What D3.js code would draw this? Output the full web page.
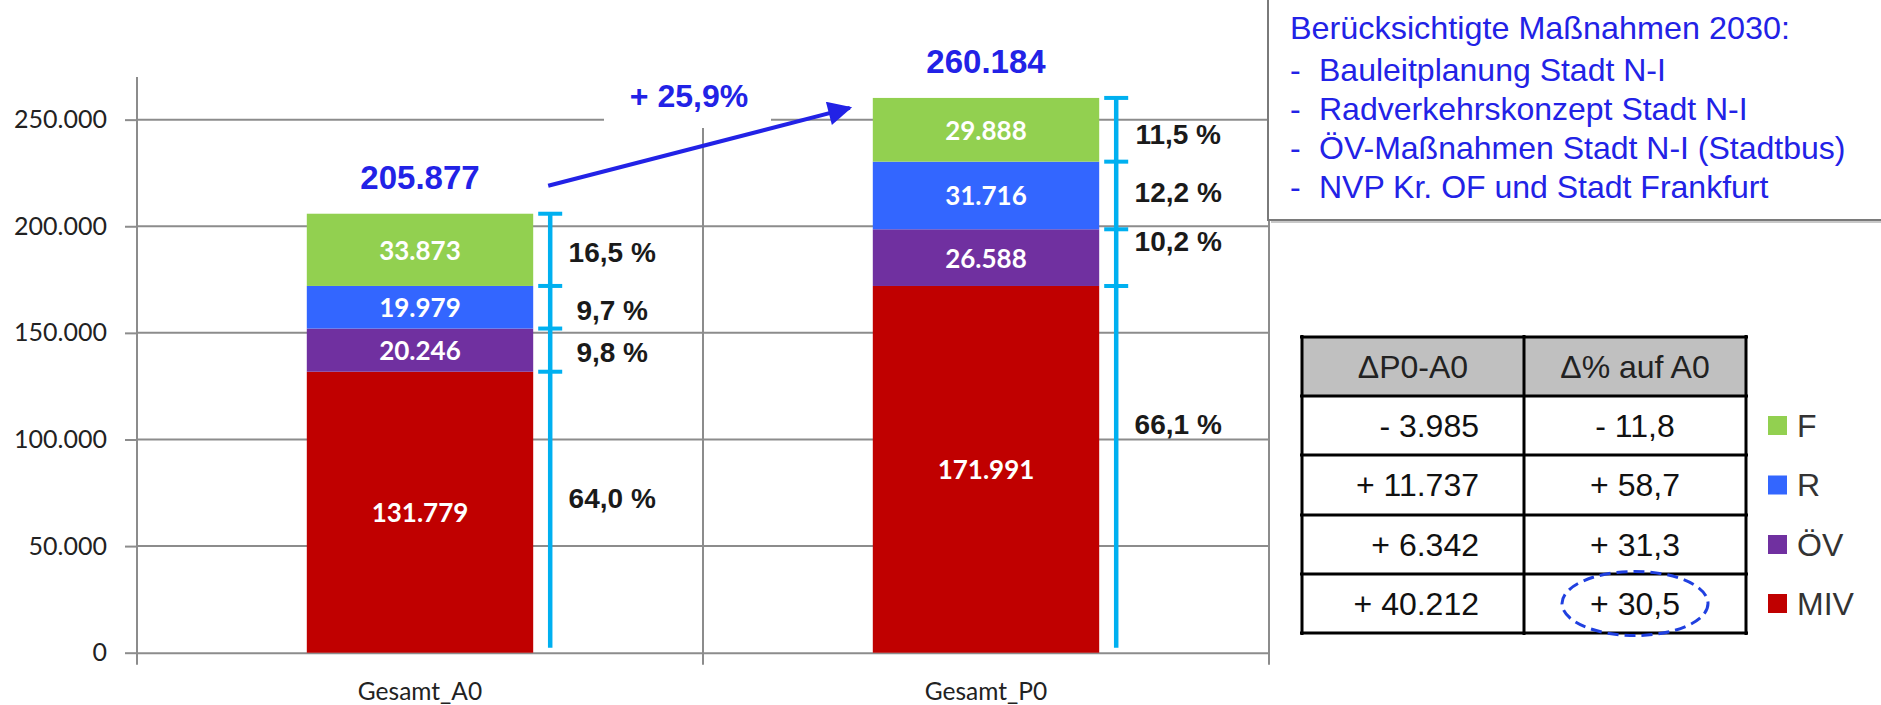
<!DOCTYPE html>
<html><head><meta charset="utf-8">
<script src="https://cdn.jsdelivr.net/npm/d3@7/dist/d3.min.js"></script>
<style>body{margin:0;background:#fff;} svg{display:block;}</style>
</head><body><svg id="c" width="1881" height="705"></svg>
<script>
// ---------- data ----------
const categories = ["Gesamt_A0", "Gesamt_P0"];
const modes = ["MIV", "ÖV", "R", "F"];           // stack order, bottom to top
const valuesMIV = [131779, 171991];
const valuesOEV = [20246, 26588];
const valuesR = [19979, 31716];
const valuesF = [33873, 29888];
const totals = [205877, 260184];
const yTickValues = [0, 50000, 100000, 150000, 200000, 250000];
const growthLabel = 25.9;
const boxTitle = "Berücksichtigte Maßnahmen 2030:";
const boxItems = ["Bauleitplanung Stadt N-I", "Radverkehrskonzept Stadt N-I", "ÖV-Maßnahmen Stadt N-I (Stadtbus)", "NVP Kr. OF und Stadt Frankfurt"];
const tableHeaders = ["ΔP0-A0", "Δ% auf A0"];
const legendOrder = ["F", "R", "ÖV", "MIV"];

// ---------- setup ----------
const colors = {"MIV": "#c00000", "ÖV": "#7030a0", "R": "#3366ff", "F": "#92d050"};
const seriesValues = {"MIV": valuesMIV, "ÖV": valuesOEV, "R": valuesR, "F": valuesF};
const rows = categories.map((c, i) => {
  const o = {cat: c};
  modes.forEach(m => o[m] = seriesValues[m][i]);
  return o;
});
const loc = d3.formatLocale({decimal: ",", thousands: ".", grouping: [3], currency: ["", "€"]});
const fInt = loc.format(",d");
const f1 = loc.format(".1f");
const signed = (v, f) => (v < 0 ? "- " : "+ ") + f(Math.abs(v));

const svg = d3.select("#c");
const AR = "'Liberation Sans', Arial, sans-serif";
const CAL = "Lato, 'Liberation Sans', sans-serif";
const BLUE = "#2222e6";

const x = d3.scaleBand().domain(categories).range([137, 1269]).paddingInner(0).paddingOuter(0);
const y = d3.scaleLinear().domain([0, 270000]).range([652.7, 77]);
const barW = x.bandwidth() * 0.4;
const barX = c => x(c) + (x.bandwidth() - barW) / 2;

// gridlines
const grid = svg.append("g");
grid.selectAll("line.h").data(yTickValues.filter(v => v > 0)).join("line")
  .attr("x1", x.range()[0]).attr("x2", x.range()[1])
  .attr("y1", d => y(d)).attr("y2", d => y(d))
  .attr("stroke", "#8c8c8c").attr("stroke-width", 2);
grid.selectAll("line.v").data(categories.map(c => x(c) + x.bandwidth())).join("line")
  .attr("x1", d => d).attr("x2", d => d)
  .attr("y1", y.range()[1]).attr("y2", y(0) + 12)
  .attr("stroke", "#8c8c8c").attr("stroke-width", 2);

// y axis
const yAxis = svg.append("g").attr("transform", `translate(${x.range()[0]},0)`)
  .call(d3.axisLeft(y).tickValues(yTickValues).tickSize(12).tickPadding(18).tickFormat(fInt));
yAxis.select(".domain").attr("stroke", "#8c8c8c").attr("stroke-width", 2)
  .attr("d", `M0,${y.range()[1]}V${y(0) + 12}`);
yAxis.selectAll(".tick line").attr("stroke", "#8c8c8c").attr("stroke-width", 2);
yAxis.selectAll(".tick text").attr("font-family", CAL).attr("font-size", 25).attr("fill", "#222");

// x axis
const xAxis = svg.append("g").attr("transform", `translate(0,${y(0)})`)
  .call(d3.axisBottom(x).tickSize(0).tickPadding(30));
xAxis.select(".domain").attr("stroke", "#8c8c8c").attr("stroke-width", 2);
xAxis.selectAll(".tick text").attr("font-family", CAL).attr("font-size", 24.5).attr("fill", "#222");

// stacked bars
const stack = d3.stack().keys(modes)(rows);
const layers = svg.append("g").selectAll("g").data(stack).join("g").attr("fill", d => colors[d.key]);
layers.selectAll("rect").data(d => d.map(p => ({key: d.key, p}))).join("rect")
  .attr("x", d => barX(d.p.data.cat)).attr("width", barW)
  .attr("y", d => y(d.p[1])).attr("height", d => y(d.p[0]) - y(d.p[1]));
layers.selectAll("text").data(d => d.map(p => ({key: d.key, p}))).join("text")
  .attr("x", d => barX(d.p.data.cat) + barW / 2)
  .attr("y", d => (y(d.p[0]) + y(d.p[1])) / 2)
  .attr("text-anchor", "middle").attr("dominant-baseline", "central")
  .attr("font-family", CAL).attr("font-weight", "bold").attr("font-size", 26).attr("fill", "#fff")
  .text(d => fInt(d.p[1] - d.p[0]));

// brackets + percent shares
const nudge = {"Gesamt_A0": {"MIV": -14, "ÖV": 2, "R": 3, "F": 3}, "Gesamt_P0": {"MIV": -45, "ÖV": -16, "R": -3, "F": 5}};
categories.forEach((c, i) => {
  const bx = barX(c) + barW + 17;
  const g = svg.append("g");
  g.append("line").attr("x1", bx).attr("x2", bx).attr("y1", y(totals[i]) - 1).attr("y2", y(0) - 5)
    .attr("stroke", "#00b0f0").attr("stroke-width", 4.5);
  stack.forEach(s => {
    g.append("line").attr("x1", bx - 12).attr("x2", bx + 12)
      .attr("y1", y(s[i][1])).attr("y2", y(s[i][1]))
      .attr("stroke", "#00b0f0").attr("stroke-width", 4);
    const share = (s[i][1] - s[i][0]) / totals[i] * 100;
    g.append("text").attr("x", bx + 62).attr("y", (y(s[i][0]) + y(s[i][1])) / 2 + nudge[c][s.key])
      .attr("text-anchor", "middle").attr("dominant-baseline", "central")
      .attr("font-family", AR).attr("font-weight", "bold").attr("font-size", 28).attr("fill", "#1a1a1a")
      .text(f1(share) + " %");
  });
  // total
  svg.append("text").attr("x", barX(c) + barW / 2).attr("y", y(totals[i]) - 25)
    .attr("text-anchor", "middle").attr("font-family", AR).attr("font-weight", "bold")
    .attr("font-size", 33).attr("fill", BLUE).text(fInt(totals[i]));
});

// growth arrow + label
const mid = x(categories[0]) + x.bandwidth();
svg.append("rect").attr("x", mid - 99).attr("y", 66).attr("width", 167).attr("height", 62).attr("fill", "#fff");
svg.append("text").attr("x", mid - 14).attr("y", 107).attr("text-anchor", "middle")
  .attr("font-family", AR).attr("font-weight", "bold").attr("font-size", 32).attr("fill", BLUE)
  .text("+ " + f1(growthLabel) + "%");
svg.append("defs").append("marker").attr("id", "ah").attr("viewBox", "0 0 10 10")
  .attr("refX", 9).attr("refY", 5).attr("markerWidth", 6.5).attr("markerHeight", 6)
  .attr("orient", "auto").attr("markerUnits", "strokeWidth")
  .append("path").attr("d", "M0,0L10,5L0,10z").attr("fill", BLUE);
const ax1 = barX(categories[0]) + barW + 15, ay1 = y(totals[0]) - 28;
const ax2 = barX(categories[1]) - 23, ay2 = y(totals[1]) + 10;
svg.append("line").attr("x1", ax1).attr("y1", ay1).attr("x2", ax2).attr("y2", ay2)
  .attr("stroke", BLUE).attr("stroke-width", 4).attr("marker-end", "url(#ah)");

// text box
svg.append("rect").attr("x", 1271).attr("y", -10).attr("width", 700).attr("height", 233).attr("fill", "#c8c8c8");
svg.append("rect").attr("x", 1268).attr("y", -10).attr("width", 700).attr("height", 230)
  .attr("fill", "#fff").attr("stroke", "#7a7a7a").attr("stroke-width", 2);
const bt = svg.append("g").attr("font-family", AR).attr("font-size", 32).attr("fill", BLUE);
bt.append("text").attr("x", 1290).attr("y", 39).attr("textLength", 500).attr("lengthAdjust", "spacingAndGlyphs").text(boxTitle);
boxItems.forEach((t, i) => {
  const ty = 81 + i * 39;
  bt.append("text").attr("x", 1290).attr("y", ty).text("-");
  bt.append("text").attr("x", 1319).attr("y", ty).text(t);
});

// table
const colX = [1302, 1524, 1746];
const rowY = [337, 396, 455, 515, 574, 633];
const tbl = svg.append("g");
tbl.append("rect").attr("x", colX[0]).attr("y", rowY[0]).attr("width", colX[2] - colX[0]).attr("height", rowY[1] - rowY[0]).attr("fill", "#c0c0c0");
rowY.forEach(ry => tbl.append("line").attr("x1", colX[0] - 2).attr("x2", colX[2] + 2).attr("y1", ry).attr("y2", ry).attr("stroke", "#000").attr("stroke-width", 3));
colX.forEach(cx => tbl.append("line").attr("x1", cx).attr("x2", cx).attr("y1", rowY[0] - 2).attr("y2", rowY[5] + 2).attr("stroke", "#000").attr("stroke-width", 3));
tableHeaders.forEach((h, i) => tbl.append("text").attr("x", (colX[i] + colX[i + 1]) / 2).attr("y", (rowY[0] + rowY[1]) / 2)
  .attr("text-anchor", "middle").attr("dominant-baseline", "central")
  .attr("font-family", AR).attr("font-size", 32).attr("fill", "#222").text(h));
legendOrder.forEach((m, r) => {
  const a = seriesValues[m][0], b = seriesValues[m][1];
  const cy = (rowY[r + 1] + rowY[r + 2]) / 2;
  tbl.append("text").attr("x", colX[1] - 45).attr("y", cy).attr("text-anchor", "end").attr("dominant-baseline", "central")
    .attr("font-family", AR).attr("font-size", 32).attr("fill", "#111").text(signed(b - a, fInt));
  tbl.append("text").attr("x", (colX[1] + colX[2]) / 2).attr("y", cy).attr("text-anchor", "middle").attr("dominant-baseline", "central")
    .attr("font-family", AR).attr("font-size", 32).attr("fill", "#111").text(signed(Math.round((b - a) / a * 1000) / 10, f1));
  // legend
  tbl.append("rect").attr("x", 1768).attr("y", cy - 9.5).attr("width", 19).attr("height", 19).attr("fill", colors[m]);
  tbl.append("text").attr("x", 1797).attr("y", cy).attr("dominant-baseline", "central")
    .attr("font-family", AR).attr("font-size", 32).attr("fill", "#333").text(m);
  if (r === legendOrder.length - 1) {
    tbl.append("ellipse").attr("cx", (colX[1] + colX[2]) / 2).attr("cy", cy).attr("rx", 73).attr("ry", 32)
      .attr("fill", "none").attr("stroke", "#2040e0").attr("stroke-width", 3).attr("stroke-dasharray", "11,6");
  }
});
</script></body></html>
